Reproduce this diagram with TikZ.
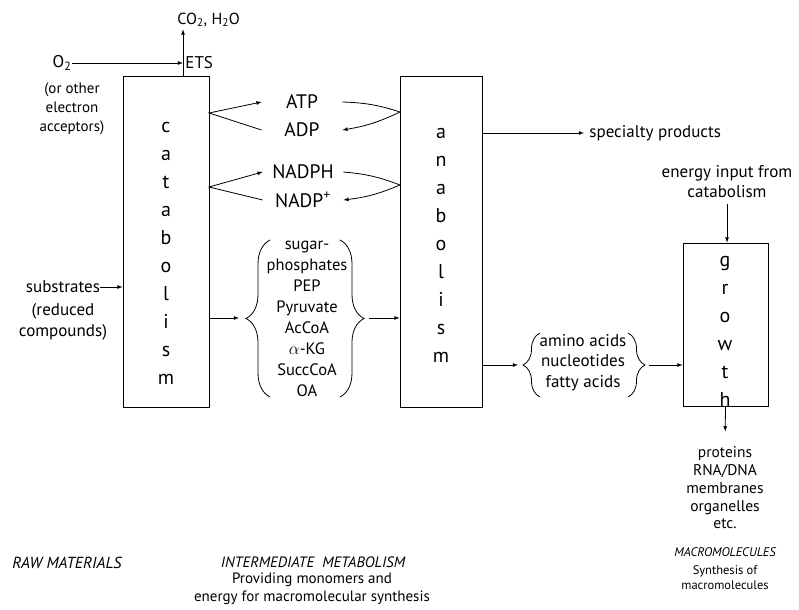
\documentclass[tikz,border=0pt]{standalone}
\usepackage{fontspec}
\setmainfont{PT Sans}
\usetikzlibrary{decorations.pathreplacing}
\begin{document}
\begin{tikzpicture}[x=1bp,y=-1bp,>=latex,line width=0.8bp,
  box/.style={draw,inner sep=0pt},
  lbl/.style={font=\fontsize{17bp}{19bp}\selectfont,align=center,inner sep=0pt},
  cof/.style={font=\fontsize{19.5bp}{20bp}\selectfont,minimum width=80bp,inner sep=0pt},
  letters/.style={font=\fontsize{20bp}{28bp}\selectfont,align=center,inner sep=0pt},
  note/.style={font=\fontsize{15bp}{18bp}\selectfont,align=center,inner sep=0pt},
  brc/.style={decorate,decoration={brace,amplitude=#1}}]
\useasboundingbox (0,0) rectangle (799,610);
% 分解代谢
\node[box,minimum width=86bp,minimum height=331bp] (catab) at (166,241.5) {};
\node[letters] (catabtxt) at (166,253) {c\\a\\t\\a\\b\\o\\l\\i\\s\\m};
\coordinate (ets0) at (183,76);
\node[lbl,font=\fontsize{16bp}{19bp}\selectfont,anchor=west] (co2) at (177,20) {CO\textsubscript{2}, H\textsubscript{2}O};
\node[lbl] (o2) at (62,63) {O\textsubscript{2}};
\node[lbl,anchor=west] (ets) at (185,63) {ETS};
\node[lbl,font=\fontsize{15bp}{19bp}\selectfont] (accept) at (72,109) {(or other\\electron\\acceptors)};
\draw[->,shorten >=2bp] (ets0) -- (ets0 |- co2.south);
\draw[->] (o2.east) -- (o2 -| ets0);
\node[lbl] (subs) at (63,287) {substrates};
\node[lbl,font=\fontsize{17bp}{21bp}\selectfont] (reduced) at (63,322) {(reduced\\compounds)};
\draw[->] (subs.east) -- (catab.west |- subs);
% 合成代谢
\node[box,minimum width=82bp,minimum height=331bp] (anab) at (441,241.5) {};
\node[letters] (anabtxt) at (441,245) {a\\n\\a\\b\\o\\l\\i\\s\\m};
% ATP/ADP, NADPH/NADP+
\node[cof] (atp) at (302,102) {ATP};
\node[cof] (adp) at (302,130) {ADP};
\node[cof] (nadph) at (303,172) {NADPH};
\node[cof] (nadp) at (303,200) {NADP\textsuperscript{+}};
\coordinate (cj1) at (209,113);
\coordinate (cj2) at (209,187);
\coordinate (aj1) at (400,112);
\coordinate (aj2) at (400,185);
\draw[->] (adp.west) -- (cj1) -- (atp.west);
\draw[->] (nadp.west) -- (cj2) -- (nadph.west);
\draw[->] (atp.east) to[bend left=8] (aj1) to[bend left=8] (adp.east);
\draw[->] (nadph.east) to[bend left=8] (aj2) to[bend left=8] (nadp.east);
% 中间代谢物
\node[lbl,font=\fontsize{16.5bp}{21bp}\selectfont] (inter) at (307,318.5)
  {sugar-\\phosphates\\PEP\\Pyruvate\\AcCoA\\$\alpha$-KG\\SuccCoA\\OA};
\draw[brc=24bp] (270,397) -- (270,240);
\draw[brc=24bp] (340,240) -- (340,397);
\coordinate (b1in) at (239,318);
\coordinate (b1out) at (369,318);
\draw[->] (catab.east |- b1in) -- (b1in);
\draw[->] (b1out) -- (anab.west |- b1out);
\node[lbl,anchor=west] (spec) at (589,133) {specialty products};
\draw[->,shorten >=5bp] (anab.east |- spec) -- (spec.west);
% 生长
\node[box,minimum width=85bp,minimum height=163bp] (grow) at (725.5,324.5) {};
\node[letters] (growtxt) at (725,331) {g\\r\\o\\w\\t\\h};
\node[lbl,font=\fontsize{17bp}{20bp}\selectfont] (energy) at (727,182) {energy input from\\catabolism};
\draw[->,shorten <=5bp] (energy.south) -- (energy.south |- grow.north);
\node[lbl,font=\fontsize{17bp}{20.5bp}\selectfont] (mono) at (583,362.5) {amino acids\\nucleotides\\fatty acids};
\draw[brc=17bp] (540,397) -- (540,333);
\draw[brc=17bp] (628,333) -- (628,397);
\coordinate (b2in) at (518,365);
\coordinate (b2out) at (649,365);
\draw[->] (anab.east |- b2in) -- (b2in);
\draw[->] (b2out) -- (grow.west |- b2out);
\node[lbl,font=\fontsize{15.5bp}{17.8bp}\selectfont] (prod) at (725,488)
  {proteins\\RNA/DNA\\membranes\\organelles\\etc.};
\draw[->,shorten >=15bp] (grow.south) -- (prod.north);
% 说明文字
\node[note,font=\fontsize{16bp}{18bp}\selectfont\itshape] (raw) at (67,563) {RAW MATERIALS};
\node[note,font=\fontsize{15bp}{18bp}\selectfont\itshape] (interc) at (313,562) {INTERMEDIATE\ \ METABOLISM};
\node[note] (interd) at (312,589) {Providing monomers and\\energy for macromolecular synthesis};
\node[note,font=\fontsize{12.5bp}{16bp}\selectfont\itshape] (macro) at (725,552) {MACROMOLECULES};
\node[note,font=\fontsize{12.5bp}{15.5bp}\selectfont] (macrod) at (725,577.5) {Synthesis of\\macromolecules};
\end{tikzpicture}
\end{document}
